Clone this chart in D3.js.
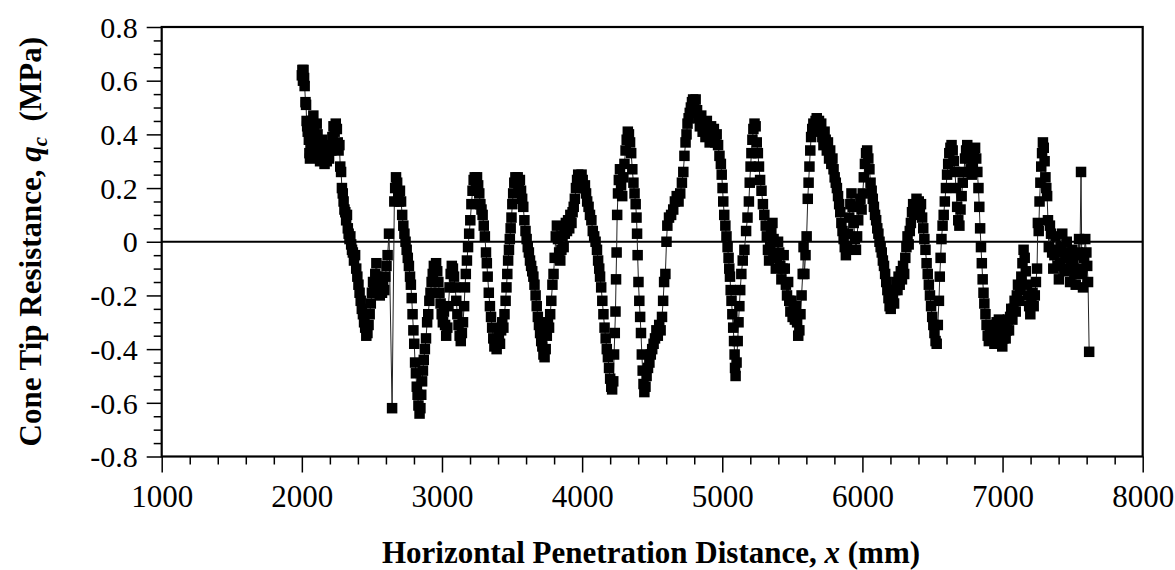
<!DOCTYPE html>
<html><head><meta charset="utf-8">
<script src="https://cdn.jsdelivr.net/npm/d3@7"></script>
<style>
html,body{margin:0;padding:0;background:#fff;}
text{font-family:"Liberation Serif","Times New Roman",serif;fill:#000;}
</style></head>
<body><svg id="chart" width="1175" height="570"></svg>
<script>
// ---- data ----
const xTickValues = [1000,2000,3000,4000,5000,6000,7000,8000];
const xTickLabels = ["1000","2000","3000","4000","5000","6000","7000","8000"];
const yTickValues = [-0.8,-0.6,-0.4,-0.2,0,0.2,0.4,0.6,0.8];
const yTickLabels = ["-0.8","-0.6","-0.4","-0.2","0","0.2","0.4","0.6","0.8"];
const xTitle = "Horizontal Penetration Distance, ";
const yTitle = "Cone Tip Resistance, ";
// [distance x (mm), cone tip resistance qc (MPa)]
const conePoints = [
[2000,0.62],[2004,0.64],[2008,0.60],[2012,0.64],[2016,0.61],[2020,0.58],[2026,0.52],[2030,0.51],[2034,0.45],[2038,0.43],[2042,0.41],[2046,0.44],[2050,0.38],[2054,0.33],[2058,0.31],[2062,0.36],[2066,0.42],[2070,0.45],[2076,0.41],[2082,0.47],[2088,0.43],[2094,0.39],[2100,0.36],[2106,0.44],[2112,0.40],[2118,0.33],[2124,0.37],[2130,0.30],[2138,0.34],[2146,0.38],[2154,0.31],[2162,0.29],[2170,0.33],[2178,0.30],[2186,0.35],[2194,0.31],[2202,0.36],[2210,0.34],[2218,0.39],[2226,0.43],[2234,0.41],[2242,0.44],[2250,0.42],[2256,0.37],[2262,0.34],[2268,0.36],[2274,0.28],[2280,0.26],[2286,0.20],[2292,0.18],[2298,0.15],[2304,0.12],[2310,0.11],[2316,0.08],[2322,0.10],[2328,0.05],[2334,0.03],[2340,0.01],[2346,0.02],[2352,-0.01],[2358,-0.03],[2364,-0.04],[2372,-0.07],
[2380,-0.05],[2388,-0.10],[2396,-0.13],[2404,-0.16],[2412,-0.19],[2420,-0.22],[2428,-0.25],[2436,-0.27],[2444,-0.30],[2452,-0.32],[2460,-0.35],[2468,-0.34],[2476,-0.31],[2484,-0.27],[2492,-0.23],[2500,-0.19],[2508,-0.15],[2516,-0.18],[2524,-0.12],[2532,-0.08],[2540,-0.13],[2548,-0.18],[2556,-0.20],[2564,-0.16],[2572,-0.19],[2580,-0.15],[2588,-0.18],[2596,-0.13],[2604,-0.09],[2612,-0.05],[2622,0.03],[2644,-0.62],[2660,0.15],[2666,0.20],[2672,0.24],[2680,0.22],[2688,0.17],[2694,0.15],[2700,0.19],[2708,0.15],[2716,0.10],[2724,0.06],[2732,0.03],[2740,0.00],[2748,-0.03],[2756,-0.06],[2764,-0.09],[2772,-0.13],[2778,-0.16],[2784,-0.21],[2790,-0.27],[2796,-0.33],[2802,-0.38],[2808,-0.45],[2814,-0.49],[2820,-0.54],[2826,-0.57],[2832,-0.61],[2840,-0.64],[2846,-0.62],[2852,-0.57],[2858,-0.52],[2864,-0.48],[2870,-0.44],[2878,-0.40],[2886,-0.36],[2894,-0.30],[2902,-0.27],[2910,-0.22],[2918,-0.19],[2926,-0.15],[2934,-0.12],[2942,-0.09],[2950,-0.10],[2958,-0.08],[2966,-0.11],[2974,-0.15],[2982,-0.19],[2990,-0.23],[2998,-0.27],[3006,-0.30],[3014,-0.26],[3022,-0.31],[3030,-0.35],[3038,-0.32],[3046,-0.24],[3054,-0.17],[3062,-0.12],[3070,-0.09],[3078,-0.10],[3086,-0.13],[3094,-0.17],[3102,-0.22],[3110,-0.27],[3118,-0.31],[3126,-0.35],[3134,-0.37],[3142,-0.34],[3150,-0.30],[3158,-0.24],[3164,-0.17],[3170,-0.12],[3178,-0.07],[3186,-0.02],[3194,0.03],[3202,0.08],[3210,0.14],[3218,0.19],[3226,0.23],[3234,0.24],[3242,0.22],[3250,0.24],[3258,0.21],[3266,0.18],[3274,0.14],[3282,0.12],[3290,0.10],[3298,0.06],[3306,0.02],[3314,-0.04],[3320,-0.08],[3326,-0.13],[3334,-0.19],[3342,-0.24],[3350,-0.28],[3358,-0.32],[3366,-0.36],[3374,-0.39],[3382,-0.37],[3390,-0.40],[3398,-0.38],[3406,-0.35],[3414,-0.38],[3422,-0.33],[3430,-0.30],[3438,-0.32],[3446,-0.27],[3454,-0.22],[3460,-0.17],[3466,-0.12],[3472,-0.07],[3478,-0.03],[3484,0.01],[3490,0.05],[3496,0.09],[3502,0.14],[3508,0.18],[3516,0.22],[3524,0.24],[3532,0.22],[3540,0.24],[3548,0.21],[3556,0.23],[3564,0.19],[3572,0.16],[3580,0.13],[3588,0.08],[3596,0.04],[3604,0.01],[3612,-0.02],[3620,-0.04],[3628,-0.07],[3636,-0.09],[3644,-0.11],[3652,-0.13],[3660,-0.16],[3668,-0.20],[3676,-0.24],[3684,-0.28],[3692,-0.31],[3700,-0.34],[3708,-0.37],[3716,-0.39],[3724,-0.42],[3732,-0.43],[3740,-0.40],[3748,-0.35],[3756,-0.30],[3764,-0.32],[3772,-0.27],[3780,-0.22],[3788,-0.16],[3796,-0.12],[3804,-0.06],[3812,0.02],[3820,0.06],[3828,0.01],[3836,-0.04],[3844,-0.07],[3852,-0.03],[3860,0.02],[3868,-0.02],[3876,0.03],[3884,0.07],[3892,0.04],[3900,0.08],[3908,0.05],[3916,0.10],[3924,0.07],[3932,0.11],[3940,0.13],[3948,0.16],[3956,0.20],[3964,0.23],[3972,0.25],[3980,0.24],[3988,0.22],[3996,0.25],[4004,0.23],[4012,0.20],[4020,0.21],[4028,0.18],[4036,0.15],[4046,0.13],[4056,0.10],[4066,0.08],[4076,0.04],[4086,0.02],[4096,0.00],[4106,-0.03],[4114,-0.07],[4122,-0.10],[4128,-0.13],[4136,-0.17],[4144,-0.22],[4152,-0.27],[4160,-0.32],[4168,-0.36],[4176,-0.40],[4184,-0.43],[4192,-0.47],[4200,-0.51],[4208,-0.54],[4214,-0.55],[4222,-0.52],[4228,-0.42],[4233,-0.34],[4238,-0.26],[4242,-0.14],[4246,-0.04],[4250,0.10],[4256,0.18],[4262,0.23],[4270,0.27],[4278,0.21],[4286,0.17],[4294,0.24],[4302,0.29],[4310,0.34],[4318,0.38],[4326,0.41],[4334,0.40],[4342,0.37],[4350,0.33],[4358,0.27],[4366,0.22],[4374,0.18],[4382,0.14],[4388,0.09],[4392,0.03],[4396,-0.05],[4402,-0.15],[4408,-0.22],[4414,-0.28],[4420,-0.34],[4426,-0.42],[4432,-0.48],[4438,-0.53],[4444,-0.56],[4452,-0.54],[4460,-0.50],[4470,-0.47],[4480,-0.45],[4490,-0.42],[4500,-0.40],[4510,-0.38],[4520,-0.36],[4530,-0.33],[4540,-0.35],[4550,-0.31],[4560,-0.33],[4570,-0.28],[4578,-0.22],[4585,-0.15],[4594,-0.12],[4602,0.00],[4608,0.06],[4620,0.09],[4635,0.10],[4650,0.12],[4662,0.15],[4675,0.17],[4688,0.15],[4700,0.18],[4712,0.22],[4722,0.26],[4730,0.32],[4738,0.37],[4745,0.40],[4752,0.44],[4760,0.46],[4768,0.48],[4776,0.50],[4784,0.52],[4792,0.53],[4800,0.51],[4810,0.53],[4820,0.49],[4830,0.46],[4840,0.43],[4850,0.47],[4860,0.41],[4870,0.44],[4880,0.39],[4890,0.45],[4900,0.40],[4910,0.37],[4920,0.43],[4930,0.38],[4940,0.42],[4950,0.37],[4960,0.40],[4970,0.36],[4980,0.32],[4990,0.29],[4996,0.25],[5002,0.20],[5007,0.15],[5014,0.10],[5022,0.06],[5030,0.02],[5038,-0.02],[5045,-0.06],[5050,-0.10],[5055,-0.13],[5060,-0.18],[5066,-0.22],[5072,-0.27],[5078,-0.32],[5084,-0.37],[5088,-0.42],[5091,-0.47],[5095,-0.50],[5102,-0.45],[5110,-0.37],[5116,-0.30],[5122,-0.24],[5128,-0.18],[5136,-0.12],[5146,-0.07],[5158,-0.03],[5170,0.04],[5180,0.09],[5190,0.15],[5196,0.22],[5202,0.28],[5208,0.33],[5215,0.38],[5222,0.42],[5230,0.44],[5238,0.43],[5246,0.37],[5254,0.33],[5262,0.28],[5270,0.23],[5280,0.19],[5290,0.14],[5300,0.10],[5310,0.06],[5318,0.02],[5326,-0.03],[5334,-0.07],[5342,-0.02],[5350,0.04],[5358,0.07],[5366,0.01],[5374,-0.05],[5382,-0.10],[5390,-0.06],[5398,0.00],[5406,-0.04],[5414,-0.09],[5422,-0.14],[5430,-0.10],[5438,-0.05],[5446,-0.10],[5454,-0.16],[5462,-0.20],[5470,-0.15],[5478,-0.22],[5486,-0.26],[5494,-0.22],[5502,-0.28],[5510,-0.25],[5518,-0.29],[5526,-0.24],[5534,-0.30],[5542,-0.35],[5550,-0.33],[5558,-0.27],[5566,-0.20],[5574,-0.12],[5580,-0.02],[5586,-0.12],[5594,-0.05],[5602,0.02],[5610,0.16],[5616,0.22],[5622,0.28],[5628,0.34],[5634,0.39],[5642,0.42],[5650,0.44],[5658,0.41],[5666,0.45],[5674,0.46],[5682,0.43],[5690,0.45],[5698,0.42],[5706,0.44],[5714,0.39],[5722,0.36],[5730,0.41],[5738,0.38],[5746,0.34],[5754,0.37],[5762,0.31],[5770,0.34],[5778,0.29],[5786,0.31],[5794,0.27],[5802,0.24],[5810,0.22],[5818,0.20],[5826,0.17],[5834,0.14],[5842,0.11],[5850,0.07],[5858,0.04],[5866,0.01],[5874,-0.02],[5882,-0.05],[5890,-0.02],[5898,0.03],[5906,0.09],[5914,0.14],[5922,0.18],[5930,0.13],[5938,0.07],[5946,0.01],[5954,-0.03],[5962,0.02],[5970,0.08],[5978,0.13],[5986,0.16],[5994,0.12],[6002,0.18],[6010,0.24],[6018,0.29],[6026,0.33],[6034,0.34],[6042,0.31],[6050,0.27],[6058,0.22],[6066,0.19],[6074,0.16],[6082,0.13],[6090,0.10],[6098,0.08],[6106,0.05],[6114,0.03],[6122,0.00],[6130,-0.02],[6138,-0.04],[6146,-0.07],[6154,-0.09],[6162,-0.12],[6170,-0.15],[6178,-0.18],[6186,-0.21],[6194,-0.24],[6202,-0.25],[6210,-0.22],[6218,-0.20],[6226,-0.23],[6234,-0.18],[6242,-0.15],[6250,-0.18],[6258,-0.13],[6266,-0.16],[6274,-0.11],[6282,-0.14],[6290,-0.09],[6298,-0.12],[6306,-0.06],[6314,-0.02],[6322,0.02],[6330,-0.01],[6338,0.04],[6346,0.07],[6354,0.11],[6362,0.14],[6370,0.10],[6378,0.13],[6386,0.16],[6394,0.12],[6402,0.15],[6410,0.11],[6418,0.14],[6426,0.09],[6434,0.05],[6442,0.01],[6450,-0.03],[6458,-0.08],[6466,-0.12],[6474,-0.16],[6482,-0.20],[6490,-0.24],[6498,-0.28],[6506,-0.31],[6514,-0.34],[6522,-0.37],[6530,-0.38],[6538,-0.31],[6546,-0.22],[6552,-0.13],[6558,-0.06],[6564,0.01],[6572,0.06],[6580,0.10],[6588,0.15],[6596,0.20],[6604,0.25],[6612,0.29],[6620,0.33],[6628,0.35],[6636,0.36],[6644,0.34],[6652,0.30],[6660,0.26],[6668,0.20],[6676,0.13],[6684,0.08],[6692,0.06],[6700,0.12],[6708,0.17],[6716,0.22],[6724,0.26],[6732,0.31],[6740,0.34],[6748,0.36],[6756,0.34],[6764,0.31],[6772,0.27],[6780,0.25],[6788,0.29],[6796,0.33],[6804,0.35],[6812,0.31],[6820,0.26],[6828,0.20],[6834,0.13],[6840,0.05],[6846,-0.02],[6852,-0.08],[6858,-0.14],[6864,-0.19],[6870,-0.23],[6878,-0.27],[6886,-0.31],[6894,-0.35],[6902,-0.37],[6910,-0.33],[6918,-0.36],[6926,-0.31],[6934,-0.35],[6942,-0.38],[6950,-0.34],[6958,-0.30],[6966,-0.34],[6974,-0.29],[6982,-0.33],[6990,-0.37],[6998,-0.39],[7006,-0.36],[7014,-0.32],[7022,-0.36],[7030,-0.33],[7038,-0.29],[7046,-0.33],[7054,-0.28],[7062,-0.25],[7070,-0.29],[7078,-0.25],[7086,-0.22],[7094,-0.26],[7102,-0.20],[7110,-0.16],[7118,-0.22],[7126,-0.18],[7134,-0.13],[7142,-0.08],[7150,-0.03],[7158,-0.06],[7166,-0.11],[7174,-0.16],[7182,-0.20],[7190,-0.24],[7198,-0.27],[7206,-0.23],[7214,-0.19],[7222,-0.24],[7230,-0.20],[7238,-0.15],[7246,-0.10],[7252,0.07],[7258,0.04],[7264,0.15],[7270,0.22],[7276,0.28],[7282,0.33],[7288,0.37],[7294,0.35],[7300,0.30],[7306,0.24],[7312,0.20],[7318,0.17],[7324,0.08],[7330,-0.02],[7338,0.06],[7346,0.03],[7354,-0.04],[7362,-0.10],[7370,-0.05],[7378,0.02],[7386,-0.03],[7394,-0.09],[7402,-0.14],[7410,-0.08],[7418,-0.02],[7426,0.03],[7434,-0.04],[7442,-0.11],[7450,-0.06],[7458,0.00],[7466,-0.05],[7474,-0.10],[7482,-0.15],[7490,-0.09],[7498,-0.03],[7506,-0.07],[7514,-0.12],[7522,-0.16],[7530,-0.10],[7538,-0.04],[7546,0.01],[7552,-0.05],[7560,0.26],[7566,-0.12],[7574,-0.17],[7582,-0.06],[7590,0.01],[7598,-0.04],[7604,-0.09],[7610,-0.15],[7618,-0.41]
];

// ---- layout ----
const W = 1175, H = 570;
const plot = {left: 161.7, right: 1142.7, top: 27, bottom: 456.5};
const svg = d3.select("#chart");
svg.append("rect").attr("width", W).attr("height", H).attr("fill", "#fff");

const x = d3.scaleLinear().domain([1000, 8000]).range([plot.left, plot.right]);
const y = d3.scaleLinear().domain([-0.8, 0.8]).range([plot.bottom, plot.top]);

const xMinor = d3.range(1000, 8001, 200).filter(v => v % 1000 !== 0);
const yMinor = d3.range(-16, 17, 1).map(k => k * 0.05).filter(v => Math.abs(Math.round(v / 0.05)) % 4 !== 0);

// minor ticks
svg.append("g").attr("transform", `translate(0,${plot.bottom})`)
  .call(d3.axisBottom(x).tickValues(xMinor).tickSize(8).tickFormat(""))
  .call(g => g.select(".domain").remove())
  .call(g => g.selectAll("line").attr("stroke", "#000").attr("stroke-width", 1.5));
svg.append("g").attr("transform", `translate(${plot.left},0)`)
  .call(d3.axisLeft(y).tickValues(yMinor).tickSize(8).tickFormat(""))
  .call(g => g.select(".domain").remove())
  .call(g => g.selectAll("line").attr("stroke", "#000").attr("stroke-width", 1.5));

// major ticks + labels
const xAxis = svg.append("g").attr("transform", `translate(0,${plot.bottom})`)
  .call(d3.axisBottom(x).tickValues(xTickValues).tickSize(16).tickPadding(12)
        .tickFormat((d, i) => xTickLabels[i]));
xAxis.select(".domain").remove();
xAxis.selectAll("line").attr("stroke", "#000").attr("stroke-width", 1.5);
xAxis.selectAll("text").attr("font-size", 31).attr("font-family", "Liberation Serif, Times New Roman, serif")
  .attr("fill", "#000").attr("dy", "0.72em");

const yAxis = svg.append("g").attr("transform", `translate(${plot.left},0)`)
  .call(d3.axisLeft(y).tickValues(yTickValues).tickSize(15).tickPadding(9)
        .tickFormat((d, i) => yTickLabels[i]));
yAxis.select(".domain").remove();
yAxis.selectAll("line").attr("stroke", "#000").attr("stroke-width", 1.5);
yAxis.selectAll("text").attr("font-size", 30).attr("font-family", "Liberation Serif, Times New Roman, serif")
  .attr("fill", "#000").attr("dy", "0.34em");

// zero line
svg.append("line").attr("x1", plot.left).attr("x2", plot.right)
  .attr("y1", y(0)).attr("y2", y(0)).attr("stroke", "#000").attr("stroke-width", 2);

// series line
const line = d3.line().x(d => x(d[0])).y(d => y(d[1]));
svg.append("path").datum(conePoints).attr("d", line)
  .attr("fill", "none").attr("stroke", "#222").attr("stroke-width", 1);

// markers
const ms = 10.5;
svg.append("g").selectAll("rect").data(conePoints).join("rect")
  .attr("x", d => x(d[0]) - ms / 2).attr("y", d => y(d[1]) - ms / 2)
  .attr("width", ms).attr("height", ms).attr("fill", "#000");

// frame
svg.append("rect").attr("x", plot.left).attr("y", plot.top)
  .attr("width", plot.right - plot.left).attr("height", plot.bottom - plot.top)
  .attr("fill", "none").attr("stroke", "#000").attr("stroke-width", 2.2);

// axis titles
const xt = svg.append("text").attr("x", 651).attr("y", 563)
  .attr("text-anchor", "middle").attr("font-size", 31).attr("font-weight", "bold")
  .style("white-space", "pre");
xt.append("tspan").text(xTitle);
xt.append("tspan").attr("font-style", "italic").text("x");
xt.append("tspan").text(" (mm)");

const yt = svg.append("text")
  .attr("transform", `translate(41,${(plot.top + plot.bottom) / 2}) rotate(-90)`)
  .attr("text-anchor", "middle").attr("font-size", 31).attr("font-weight", "bold")
  .style("white-space", "pre");
yt.append("tspan").text(yTitle);
yt.append("tspan").attr("font-style", "italic").text("q");
yt.append("tspan").attr("font-style", "italic").attr("font-size", 21).attr("dy", 6).text("c");
yt.append("tspan").attr("dy", -6).text("  (MPa)");
</script>
</body></html>
